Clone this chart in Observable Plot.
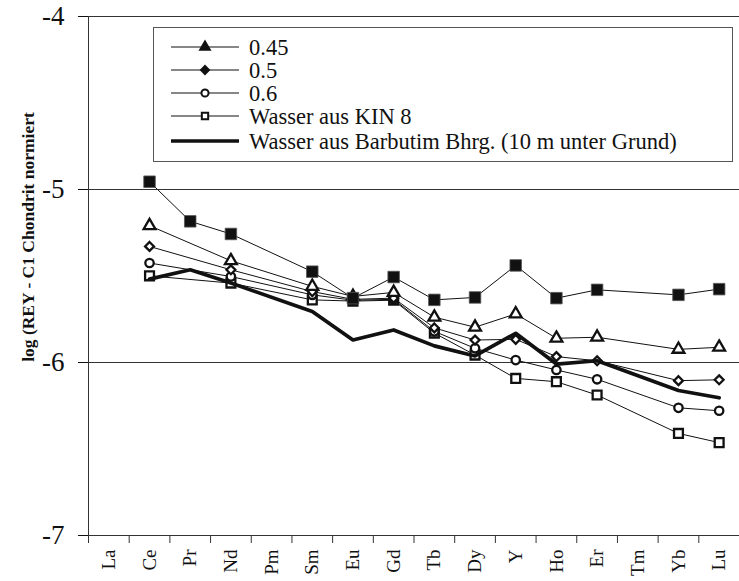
<!DOCTYPE html>
<html><head><meta charset="utf-8">
<script src="https://cdn.jsdelivr.net/npm/d3@7"></script>
<script src="https://cdn.jsdelivr.net/npm/@observablehq/plot@0.6"></script>
<style>
body{margin:0;background:#fff;}
#chart{position:relative;width:739px;height:581px;font-family:"Liberation Serif","Times New Roman",serif;overflow:hidden;}
#ylabel{position:absolute;left:28px;top:237px;transform:translate(-50%,-50%) rotate(-90deg);white-space:nowrap;font-weight:bold;font-size:17.5px;color:#111;}
#legend{position:absolute;left:153px;top:27px;width:578px;height:133px;border:1.5px solid #555;background:#fff;}
#legend text{font-family:"Liberation Serif","Times New Roman",serif;}
</style></head><body><div id="chart"><div id="ylabel">log (REY - C1 Chondrit normiert</div></div>
<script>
const elements = ["La","Ce","Pr","Nd","Pm","Sm","Eu","Gd","Tb","Dy","Y","Ho","Er","Tm","Yb","Lu"];
const yTicks = [-7, -6, -5, -4];
const gridValues = [-6, -5, -4];
// series values per element (null = not measured)
const filledSquares = [null,-4.955,-5.184,-5.257,null,-5.475,-5.628,-5.506,-5.638,-5.624,-5.439,-5.628,-5.58,null,-5.609,-5.576];
const s045 = [null,-5.209,null,-5.412,null,-5.56,-5.618,-5.595,-5.738,-5.796,-5.719,-5.86,-5.854,null,-5.924,-5.912];
const s05 = [null,-5.329,null,-5.464,null,-5.59,-5.635,-5.628,-5.80,-5.87,-5.866,-5.966,-5.99,null,-6.105,-6.10];
const s06 = [null,-5.425,null,-5.503,null,-5.609,-5.64,-5.635,-5.82,-5.918,-5.986,-6.043,-6.097,null,-6.262,-6.279];
const kin8 = [null,-5.499,null,-5.541,null,-5.638,-5.645,-5.64,-5.83,-5.957,-6.092,-6.111,-6.188,null,-6.41,-6.463];
const barbutim = [null,-5.518,-5.464,-5.541,null,-5.705,-5.87,-5.812,-5.904,-5.962,-5.831,-6.009,-5.99,null,-6.162,-6.204];
const legendLabels = ["0.45","0.5","0.6","Wasser aus KIN 8","Wasser aus Barbutim Bhrg. (10 m unter Grund)"];

const rows = arr => arr.map((v,i)=>({i, v})).filter(d => d.v != null);
const ink = "#111";
const serif = '"Liberation Serif","Times New Roman",serif';

const plot = Plot.plot({
  width: 739, height: 581,
  marginLeft: 88, marginRight: 0, marginTop: 16, marginBottom: 46,
  style: {fontFamily: serif, color: ink, background: "transparent"},
  x: {type: "linear", domain: [-0.5, 15.5]},
  y: {domain: [-7, -4]},
  marks: [
    Plot.ruleY(gridValues, {stroke: "#333", strokeWidth: 1}),
    Plot.ruleY([-7], {stroke: "#333", strokeWidth: 1}),
    Plot.ruleX([-0.5], {y1: -7, y2: -4, stroke: "#333", strokeWidth: 1}),
    Plot.axisY({ticks: yTicks, tickSize: 10, tickPadding: 14, fontSize: 27, label: null, tickFormat: d => d.toString().replace("−","-")}),
    Plot.axisX({ticks: d3.range(0,16), tickSize: 0, tickPadding: 14, tickRotate: -90, fontSize: 19, label: null, tickFormat: i => elements[i]}),
    Plot.axisX({ticks: d3.range(-0.5, 16, 1), tickSize: 8, tickFormat: () => "", label: null, stroke: "#333"}),
    Plot.line(rows(filledSquares), {x: "i", y: "v", stroke: ink, strokeWidth: 1}),
    Plot.line(rows(s045), {x: "i", y: "v", stroke: ink, strokeWidth: 1}),
    Plot.line(rows(s05), {x: "i", y: "v", stroke: ink, strokeWidth: 1}),
    Plot.line(rows(s06), {x: "i", y: "v", stroke: ink, strokeWidth: 1}),
    Plot.line(rows(kin8), {x: "i", y: "v", stroke: ink, strokeWidth: 1}),
    Plot.dot(rows(kin8), {x: "i", y: "v", symbol: "square", r: 5, fill: "white", stroke: ink, strokeWidth: 2.3}),
    Plot.dot(rows(s06), {x: "i", y: "v", symbol: "circle", r: 4.2, fill: "white", stroke: ink, strokeWidth: 2.3}),
    Plot.dot(rows(s05), {x: "i", y: "v", symbol: "diamond2", r: 4, fill: "white", stroke: ink, strokeWidth: 2.3}),
    Plot.dot(rows(s045), {x: "i", y: "v", symbol: "triangle", r: 4.4, fill: "white", stroke: ink, strokeWidth: 2.3}),
    Plot.line(rows(barbutim), {x: "i", y: "v", stroke: ink, strokeWidth: 3.7}),
    Plot.dot(rows(filledSquares), {x: "i", y: "v", symbol: "square", r: 6.5, fill: ink, stroke: "#555", strokeWidth: 0.8})
  ]
});
document.getElementById("chart").appendChild(plot);

// legend
const legend = d3.select("#chart").append("div").attr("id", "legend");
const lsvg = legend.append("svg").attr("width", 578).attr("height", 133);
const symbols = [d3.symbolTriangle, d3.symbolDiamond2, d3.symbolCircle, d3.symbolSquare, null];
const fills = [ink, ink, "white", "white", null];
legendLabels.forEach((lab, k) => {
  const cy = 19 + k * 23 + (k === 4 ? 2 : 0);
  const g = lsvg.append("g");
  g.append("line").attr("x1", 17).attr("x2", 85).attr("y1", cy).attr("y2", cy)
    .attr("stroke", ink).attr("stroke-width", k === 4 ? 3.5 : 1.2);
  if (symbols[k]) {
    g.append("path").attr("d", d3.symbol(symbols[k], 40)())
      .attr("transform", `translate(51,${cy})`)
      .attr("fill", fills[k]).attr("stroke", ink).attr("stroke-width", 2);
  }
  g.append("text").attr("x", 95).attr("y", cy).attr("dy", "0.35em")
    .style("font-size", "22.5px").style("font-family", serif).attr("fill", ink).text(lab);
});
</script></body></html>
